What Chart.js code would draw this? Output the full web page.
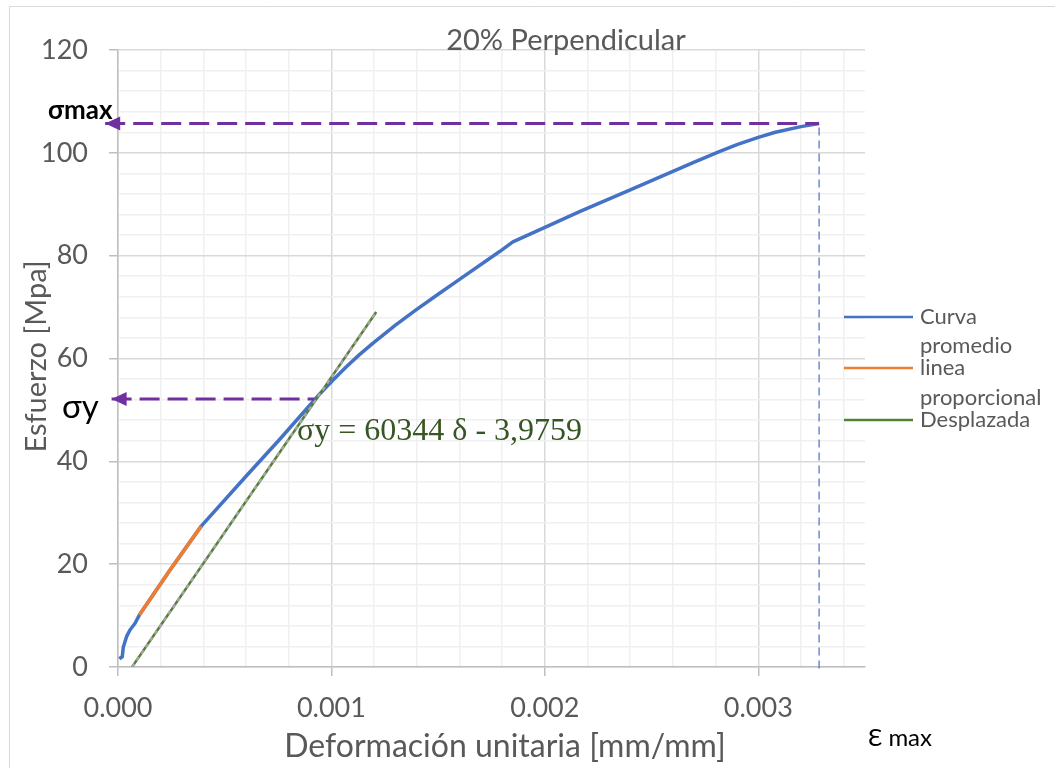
<!DOCTYPE html>
<html>
<head>
<meta charset="utf-8">
<script src="https://cdn.jsdelivr.net/npm/chart.js@4.4.1/dist/chart.umd.min.js"></script>
<style>
	html, body { margin: 0; padding: 0; background: #fff; }
	#wrap { width: 1055px; height: 768px; }
</style>
</head>
<body>
<div id="wrap"><canvas id="chart" width="1055" height="768"></canvas></div>
<script>
"use strict";

// curva promedio (blue)
const curvaX = [0.000006, 0.00002, 0.000025, 0.00004, 0.000056, 0.00008, 0.0001, 0.000243, 0.00039, 0.000602, 0.000758, 0.000945, 0.00101, 0.00107, 0.00113, 0.001195, 0.0013, 0.001398, 0.0015, 0.0016, 0.001788, 0.00185, 0.00199, 0.00216, 0.0024, 0.0026, 0.0027, 0.00282, 0.0029, 0.003, 0.00308, 0.0032, 0.003285];
const curvaY = [1.6, 2.0, 3.9, 5.9, 7.2, 8.5, 10.1, 18.8, 27.4, 37.2, 44.3, 53.1, 55.9, 58.4, 60.7, 63.0, 66.5, 69.5, 72.5, 75.4, 80.8, 82.7, 85.3, 88.5, 92.8, 96.4, 98.2, 100.3, 101.6, 103.0, 104.0, 105.1, 105.7];

// linea proporcional (orange)
const lineaX = [0.0001, 0.000243, 0.00039];
const lineaY = [10.1, 18.8, 27.4];

// desplazada (green): σy = 60344 δ - 3,9759
const despX = [0.0000659, 0.00121];
const despY = [0, 69.04];

// reference marks
const sigmaMax = 105.7;
const epsMax = 0.003285;
const sigmaY = 52.1;
const epsY = 0.00092;
const arrowTipMax = -0.00006;
const arrowTipY = -0.00003;

const xTickValues = [0, 0.0002, 0.0004, 0.0006, 0.0008, 0.001, 0.0012, 0.0014, 0.0016, 0.0018, 0.002, 0.0022, 0.0024, 0.0026, 0.0028, 0.003, 0.0032, 0.0034];
const yTickValues = [0, 4, 8, 12, 16, 20, 24, 28, 32, 36, 40, 44, 48, 52, 56, 60, 64, 68, 72, 76, 80, 84, 88, 92, 96, 100, 104, 108, 112, 116, 120];

const legendItems = [
	{ lines: ["Curva", "promedio"], color: "#4472C4" },
	{ lines: ["linea", "proporcional"], color: "#ED7D31" },
	{ lines: ["Desplazada"], color: "#548235" }
];

const SANS = "Lato, 'Noto Sans', sans-serif";

function pts(xs, ys){
	return xs.map((x, i) => ({ x: x, y: ys[i] }));
}

function isMajorX(v){ return Math.round(v * 10000) % 10 === 0; }
function isMajorY(v){ return Math.round(v) % 20 === 0; }

const extras = {
	id: "extras",
	beforeDraw(chart){
		const ctx = chart.ctx;
		ctx.save();
		ctx.fillStyle = "#fff";
		ctx.fillRect(0, 0, chart.width, chart.height);
		ctx.strokeStyle = "#D9D9D9";
		ctx.lineWidth = 1;
		ctx.beginPath();
		ctx.moveTo(9.5, chart.height);
		ctx.lineTo(9.5, 6.5);
		ctx.lineTo(chart.width, 6.5);
		ctx.stroke();
		ctx.restore();
	},
	afterDraw(chart){
		const ctx = chart.ctx;
		const xs = chart.scales.x, ys = chart.scales.y;
		const area = chart.chartArea;
		ctx.save();

		// arrowheads
		ctx.fillStyle = "#7030A0";
		[[arrowTipMax, sigmaMax], [arrowTipY, sigmaY]].forEach(a => {
			const px = xs.getPixelForValue(a[0]);
			const py = ys.getPixelForValue(a[1]);
			ctx.beginPath();
			ctx.moveTo(px, py);
			ctx.lineTo(px + 15, py - 7);
			ctx.lineTo(px + 15, py + 7);
			ctx.closePath();
			ctx.fill();
		});

		// title
		ctx.fillStyle = "#595959";
		ctx.font = "29px " + SANS;
		ctx.textAlign = "center";
		ctx.textBaseline = "alphabetic";
		ctx.fillText("20% Perpendicular", 566, 50);

		// axis titles
		ctx.font = "32px " + SANS;
		ctx.fillText("Deformación unitaria [mm/mm]", 505, 757);
		ctx.font = "29px " + SANS;
		ctx.save();
		ctx.translate(46, (area.top + area.bottom) / 2 - 2);
		ctx.rotate(-Math.PI / 2);
		ctx.fillText("Esfuerzo [Mpa]", 0, 0);
		ctx.restore();

		// legend
		ctx.textAlign = "left";
		ctx.font = "22px " + SANS;
		const rows = [[317, 324, 353], [368, 375, 405], [420, 427]];
		legendItems.forEach((item, i) => {
			const r = rows[i];
			ctx.strokeStyle = item.color;
			ctx.lineWidth = 2.5;
			ctx.beginPath();
			ctx.moveTo(844, r[0]);
			ctx.lineTo(913, r[0]);
			ctx.stroke();
			ctx.fillStyle = "#595959";
			item.lines.forEach((t, j) => ctx.fillText(t, 920, r[1 + j]));
		});

		// equation
		ctx.fillStyle = "#375623";
		ctx.font = "32px 'Liberation Serif', 'Times New Roman', serif";
		ctx.fillText("σy = 60344 δ - 3,9759", 297, 440);

		// annotations
		ctx.fillStyle = "#000";
		ctx.font = "bold 26px " + SANS;
		ctx.fillText("σmax", 48, 119);
		ctx.font = "33px " + SANS;
		ctx.fillText("σy", 62, 418);
		ctx.font = "24px " + SANS;
		ctx.fillText("Ɛ max", 868, 746);

		ctx.restore();
	}
};

const ctx = document.querySelector("#chart").getContext("2d");

new Chart(ctx, {
	type: "scatter",
	data: {
		datasets: [
			{
				data: pts([arrowTipMax, epsMax], [sigmaMax, sigmaMax]),
				borderColor: "#7030A0",
				borderWidth: 3,
				borderDash: [20, 8],
				clip: false,
				order: 1
			},
			{
				data: pts([arrowTipY, epsY], [sigmaY, sigmaY]),
				borderColor: "#7030A0",
				borderWidth: 3,
				borderDash: [20, 8],
				clip: false,
				order: 1
			},
			{
				data: pts([epsMax, epsMax], [-0.3, sigmaMax]),
				borderColor: "rgba(68, 114, 196, 0.8)",
				borderWidth: 1.5,
				borderDash: [8, 5],
				clip: false,
				order: 6
			},
			{
				label: "Curva promedio",
				data: pts(curvaX, curvaY),
				borderColor: "#4472C4",
				borderWidth: 3.5,
				borderJoinStyle: "round",
				order: 5
			},
			{
				label: "linea proporcional",
				data: pts(lineaX, lineaY),
				borderColor: "#ED7D31",
				borderWidth: 3.5,
				order: 4
			},
			{
				label: "Desplazada",
				data: pts(despX, despY),
				borderColor: "#548235",
				borderWidth: 2.5,
				order: 3
			},
			{
				data: pts(despX, despY),
				borderColor: "#A5A5A5",
				borderWidth: 2.5,
				borderDash: [4, 4],
				order: 2
			}
		]
	},
	options: {
		responsive: false,
		animation: false,
		showLine: true,
		elements: {
			point: { radius: 0, hoverRadius: 0 },
			line: { tension: 0 }
		},
		layout: {
			padding: { left: 0, top: 50, right: 190, bottom: 0 }
		},
		plugins: {
			legend: { display: false },
			tooltip: { enabled: false },
			title: { display: false }
		},
		scales: {
			x: {
				type: "linear",
				min: 0,
				max: 0.0035,
				afterBuildTicks: scale => { scale.ticks = xTickValues.map(v => ({ value: v })); },
				afterFit: scale => { scale.height = 101; },
				border: { color: "#BFBFBF", width: 1.5 },
				grid: {
					color: c => isMajorX(c.tick.value) ? "#D9D9D9" : "#F0F0F0",
					lineWidth: 1.5,
					tickColor: c => isMajorX(c.tick.value) ? "#BFBFBF" : "rgba(0,0,0,0)",
					tickLength: 9
				},
				ticks: {
					autoSkip: false,
					maxRotation: 0,
					padding: 16,
					color: "#595959",
					font: { family: SANS, size: 27 },
					callback: v => isMajorX(v) ? v.toFixed(3) : ""
				}
			},
			y: {
				type: "linear",
				min: 0,
				max: 120,
				afterBuildTicks: scale => { scale.ticks = yTickValues.map(v => ({ value: v })); },
				afterFit: scale => { scale.width = 118; },
				border: { color: "#BFBFBF", width: 1.5 },
				grid: {
					color: c => isMajorY(c.tick.value) ? "#D9D9D9" : "#F0F0F0",
					lineWidth: 1.5,
					tickColor: c => isMajorY(c.tick.value) ? "#BFBFBF" : "rgba(0,0,0,0)",
					tickLength: 9
				},
				ticks: {
					autoSkip: false,
					padding: 21,
					color: "#595959",
					font: { family: SANS, size: 27 },
					callback: v => isMajorY(v) ? String(v) : ""
				}
			}
		}
	},
	plugins: [extras]
});
</script>
</body>
</html>
